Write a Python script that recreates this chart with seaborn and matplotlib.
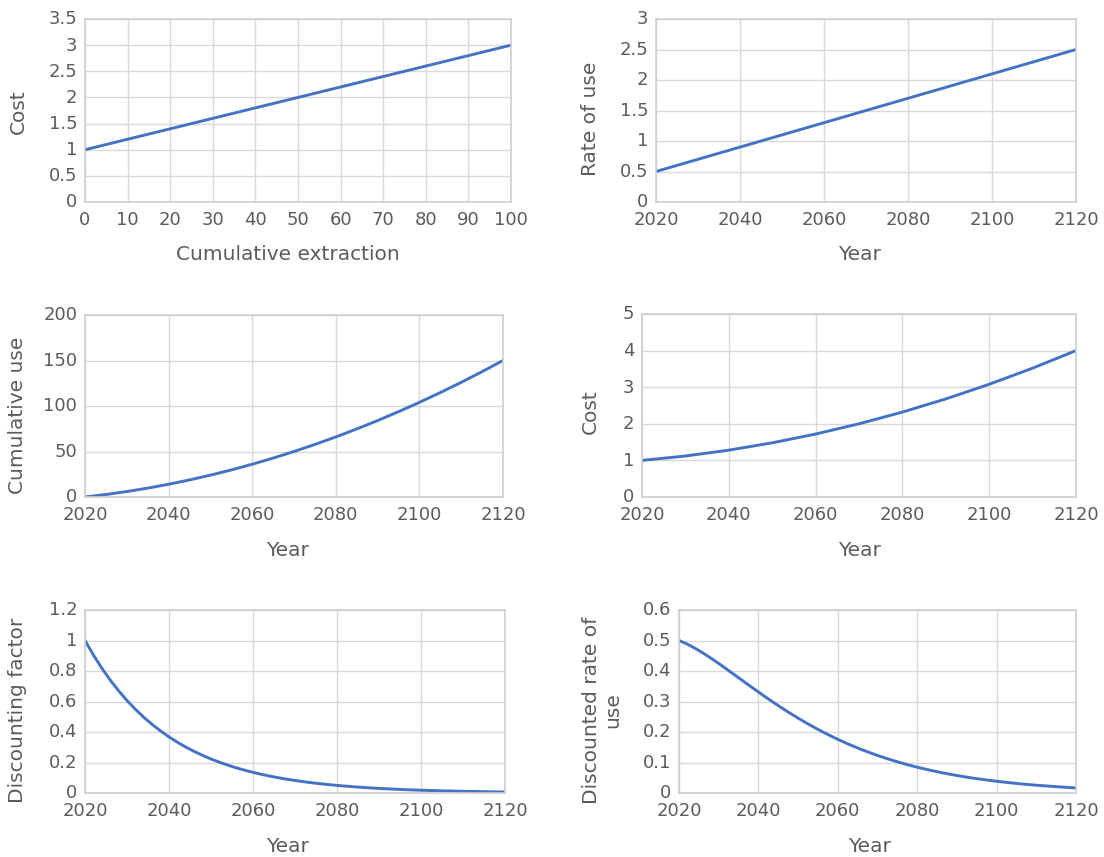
import matplotlib
matplotlib.use("Agg")
import matplotlib.pyplot as plt
import matplotlib.transforms as mtransforms
import seaborn as sns
import pandas as pd

# ---- data -------------------------------------------------------------
extraction = [0, 10, 20, 30, 40, 50, 60, 70, 80, 90, 100]
cost_by_extraction = [1.0, 1.2, 1.4, 1.6, 1.8, 2.0, 2.2, 2.4, 2.6, 2.8, 3.0]

years = [2020, 2025, 2030, 2035, 2040, 2045, 2050, 2055, 2060, 2065, 2070,
         2075, 2080, 2085, 2090, 2095, 2100, 2105, 2110, 2115, 2120]
rate_of_use = [0.5, 0.6, 0.7, 0.8, 0.9, 1.0, 1.1, 1.2, 1.3, 1.4, 1.5,
               1.6, 1.7, 1.8, 1.9, 2.0, 2.1, 2.2, 2.3, 2.4, 2.5]
cumulative_use = [0, 2.75, 6, 9.75, 14, 18.75, 24, 29.75, 36, 42.75, 50,
                  57.75, 66, 74.75, 84, 93.75, 104, 114.75, 126, 137.75, 150]
cost_by_year = [1.0, 1.06, 1.12, 1.2, 1.28, 1.38, 1.48, 1.6, 1.72, 1.86, 2.0,
                2.16, 2.32, 2.5, 2.68, 2.88, 3.08, 3.3, 3.52, 3.76, 4.0]

# two-year steps for the discounting panels
years_2y = [2020, 2022, 2024, 2026, 2028, 2030, 2032, 2034, 2036, 2038,
            2040, 2042, 2044, 2046, 2048, 2050, 2052, 2054, 2056, 2058,
            2060, 2062, 2064, 2066, 2068, 2070, 2072, 2074, 2076, 2078,
            2080, 2082, 2084, 2086, 2088, 2090, 2092, 2094, 2096, 2098,
            2100, 2102, 2104, 2106, 2108, 2110, 2112, 2114, 2116, 2118,
            2120]
discount_factor = [1.0, 0.9048, 0.8187, 0.7408, 0.6703, 0.6065, 0.5488,
                   0.4966, 0.4493, 0.4066, 0.3679, 0.3329, 0.3012, 0.2725,
                   0.2466, 0.2231, 0.2019, 0.1827, 0.1653, 0.1496, 0.1353,
                   0.1225, 0.1108, 0.1003, 0.0907, 0.0821, 0.0743, 0.0672,
                   0.0608, 0.0550, 0.0498, 0.0450, 0.0408, 0.0369, 0.0334,
                   0.0302, 0.0273, 0.0247, 0.0224, 0.0202, 0.0183, 0.0166,
                   0.0150, 0.0136, 0.0123, 0.0111, 0.0101, 0.0091, 0.0082,
                   0.0074, 0.0067]
discounted_rate = [0.5, 0.4886, 0.4749, 0.4593, 0.4424, 0.4246, 0.4061,
                   0.3873, 0.3685, 0.3497, 0.3311, 0.3129, 0.2952, 0.2780,
                   0.2614, 0.2454, 0.2302, 0.2156, 0.2017, 0.1885, 0.1759,
                   0.1641, 0.1529, 0.1424, 0.1325, 0.1231, 0.1144, 0.1062,
                   0.0985, 0.0913, 0.0846, 0.0784, 0.0726, 0.0671, 0.0621,
                   0.0574, 0.0530, 0.0489, 0.0452, 0.0417, 0.0385, 0.0355,
                   0.0327, 0.0301, 0.0277, 0.0256, 0.0236, 0.0217, 0.0199,
                   0.0182, 0.0168]

year_ticks = [2020, 2040, 2060, 2080, 2100, 2120]
extraction_ticks = [0, 10, 20, 30, 40, 50, 60, 70, 80, 90, 100]

# ---- style ------------------------------------------------------------
sns.set_style("white")
plt.rcParams["font.family"] = ["DejaVu Sans"]

TEXT = "#5b5b5b"
GRID = "#d9d9d9"
LINE = "#4472c4"
TICK_FS = 13
LABEL_FS = 14.5

W, H = 1104, 857
fig = plt.figure(figsize=(W / 100, H / 100), dpi=100)
# nudge value labels up slightly so they clear the year labels below
y_lift = mtransforms.ScaledTranslation(0, 1.6 / 100, fig.dpi_scale_trans)


def px_axes(left, top, right, bottom):
    return fig.add_axes([left / W, 1 - bottom / H, (right - left) / W,
                         (bottom - top) / H])


def style(ax, xlim, xticks, ylim, yticks, xlabel, ylabel,
          ylab_px, xlab_px, box):
    left, top, right, bottom = box
    ax.set_xlim(*xlim)
    ax.set_ylim(*ylim)
    ax.set_xticks(xticks)
    ax.set_yticks(yticks)
    ax.set_xticklabels([f"{t:g}" for t in xticks])
    ax.set_yticklabels([f"{t:g}" for t in yticks])
    ax.grid(True, color=GRID, linewidth=1.0)
    ax.set_axisbelow(True)
    for s in ax.spines.values():
        s.set_visible(True)
        s.set_color("#cfcfcf")
        s.set_linewidth(1.2)
    ax.tick_params(length=0, labelsize=TICK_FS, colors=TEXT)
    ax.tick_params(axis="x", pad=6.7)
    ax.tick_params(axis="y", pad=5.5)
    for lab in ax.get_yticklabels():
        lab.set_transform(lab.get_transform() + y_lift)
    ax.set_xlabel(xlabel, fontsize=LABEL_FS, color=TEXT)
    ax.set_ylabel(ylabel, fontsize=LABEL_FS, color=TEXT, linespacing=1.1)
    # axis titles sit at fixed pixel positions
    xl_x, xl_y = xlab_px
    ax.xaxis.set_label_coords((xl_x - left) / (right - left),
                              (bottom - xl_y) / (bottom - top))
    ax.xaxis.label.set_va("center")
    yl_x, yl_y = ylab_px
    ax.yaxis.set_label_coords((yl_x - left) / (right - left),
                              (bottom - yl_y) / (bottom - top))
    ax.yaxis.label.set_va("center")


def draw(ax, x, y):
    df = pd.DataFrame({"x": x, "y": y})
    sns.lineplot(data=df, x="x", y="y", ax=ax, color=LINE, linewidth=2.1)


# panel 1: cost vs cumulative extraction
b1 = (85, 19, 511, 202)
ax1 = px_axes(*b1)
draw(ax1, extraction, cost_by_extraction)
style(ax1, (0, 100), extraction_ticks, (0, 3.5),
      [0, 0.5, 1, 1.5, 2, 2.5, 3, 3.5],
      "Cumulative extraction", "Cost", (18, 112), (288, 255), b1)

# panel 2: rate of use
b2 = (656, 19, 1076, 202)
ax2 = px_axes(*b2)
draw(ax2, years, rate_of_use)
style(ax2, (2020, 2120), year_ticks, (0, 3),
      [0, 0.5, 1, 1.5, 2, 2.5, 3],
      "Year", "Rate of use", (590, 119), (859, 255), b2)

# panel 3: cumulative use
b3 = (85, 315, 503, 497)
ax3 = px_axes(*b3)
draw(ax3, years, cumulative_use)
style(ax3, (2020, 2120), year_ticks, (0, 200),
      [0, 50, 100, 150, 200],
      "Year", "Cumulative use", (18, 415), (288, 550), b3)

# panel 4: cost over time
b4 = (642, 314, 1076, 497)
ax4 = px_axes(*b4)
draw(ax4, years, cost_by_year)
style(ax4, (2020, 2120), year_ticks, (0, 5),
      [0, 1, 2, 3, 4, 5],
      "Year", "Cost", (590, 412), (859, 550), b4)

# panel 5: discounting factor
b5 = (85, 610, 505, 793)
ax5 = px_axes(*b5)
draw(ax5, years_2y, discount_factor)
style(ax5, (2020, 2120), year_ticks, (0, 1.2),
      [0, 0.2, 0.4, 0.6, 0.8, 1, 1.2],
      "Year", "Discounting factor", (18, 710), (288, 846), b5)

# panel 6: discounted rate of use
b6 = (679, 610, 1076, 793)
ax6 = px_axes(*b6)
draw(ax6, years_2y, discounted_rate)
style(ax6, (2020, 2120), year_ticks, (0, 0.6),
      [0, 0.1, 0.2, 0.3, 0.4, 0.5, 0.6],
      "Year", "Discounted rate of\nuse", (602, 710), (870, 846), b6)

fig.savefig("out.png", dpi=100, facecolor="white")
